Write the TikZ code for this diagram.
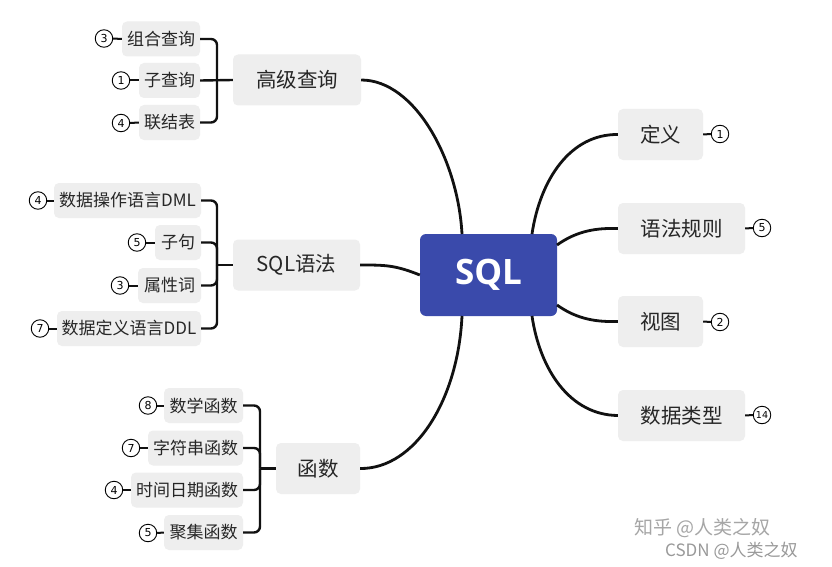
\documentclass[tikz,border=0pt]{standalone}
\usepackage{fontspec}
\setmainfont{Noto Sans CJK SC}
\newfontfamily\sqlfont{Open Sans}
\newfontfamily\numfont{DejaVu Sans}
\definecolor{boxgray}{HTML}{EEEEEE}
\definecolor{sqlblue}{HTML}{3A4AAB}
\definecolor{linek}{HTML}{111111}
\begin{document}
\begin{tikzpicture}[x=1pt,y=-1pt,
  topic/.style={fill=boxgray,rounded corners=5pt,minimum height=51pt,inner sep=0pt,font=\fontsize{20.5}{22}\selectfont,text=black!85},
  sub/.style={fill=boxgray,rounded corners=5pt,minimum height=35pt,inner sep=0pt,font=\fontsize{17}{18}\selectfont,text=black!85},
  badge/.style={circle,draw=black,line width=0.9pt,fill=white,minimum size=17.5pt,inner sep=0pt,font=\numfont\fontsize{11}{12}\selectfont},
  smallbadge/.style={badge,font=\numfont\fontsize{9.5}{10}\selectfont},
  branch/.style={draw=linek,line width=2.8pt},
  brk/.style={draw=linek,line width=2.4pt,rounded corners=6pt},
  tick/.style={draw=linek,line width=2pt}
]
\useasboundingbox (0,0) rectangle (832,567);
\fill[white] (0,0) rectangle (832,567);

% central
\node[fill=sqlblue,rounded corners=6pt,minimum width=137pt,minimum height=82pt,inner sep=0pt,text=white,font=\sqlfont\bfseries\fontsize{35}{37}\selectfont] (sql) at (488.5,275) {SQL};

% right topics
\node[topic,minimum width=85pt] (dy) at (660.5,134.5) {定义};
\node[topic,minimum width=127pt] (yf) at (681.5,228.5) {语法规则};
\node[topic,minimum width=85pt] (st) at (660.5,321.5) {视图};
\node[topic,minimum width=127pt] (sj) at (681.5,415.5) {数据类型};

\node[badge] (bdy) at (720,134) {1};
\node[badge] (byf) at (762,228) {5};
\node[badge] (bst) at (720,322) {2};
\node[smallbadge] (bsj) at (762,415) {14};
\draw[tick] (dy.east) -- (bdy.west);
\draw[tick] (yf.east) -- (byf.west);
\draw[tick] (st.east) -- (bst.west);
\draw[tick] (sj.east) -- (bsj.west);

\draw[branch] (532,234) .. controls (540,180) and (570,134) .. (dy.west);
\draw[branch] (557,245) .. controls (578,230) and (598,228) .. (yf.west);
\draw[branch] (557,305) .. controls (578,320) and (598,322) .. (st.west);
\draw[branch] (532,316) .. controls (540,370) and (570,415) .. (sj.west);

% left topics
\node[topic,minimum width=128pt] (gj) at (297,80) {高级查询};
\node[topic,minimum width=127pt] (yfa) at (296.5,265) {SQL语法};
\node[topic,minimum width=84pt] (hs) at (318,468.5) {函数};

\draw[branch] (462,234) .. controls (458,160) and (415,80) .. (gj.east);
\draw[branch] (sql.west) .. controls (395,265) and (385,265) .. (yfa.east);
\draw[branch] (462,316) .. controls (458,400) and (415,469) .. (hs.east);

% group 1
\node[sub,minimum width=78pt] (g1) at (161,39) {组合查询};
\node[sub,minimum width=61pt] (g2) at (169.5,80.5) {子查询};
\node[sub,minimum width=61pt] (g3) at (169.5,122.5) {联结表};
\coordinate (j1) at (217,80.5);
\draw[brk] (g1.east) -| (j1);
\draw[brk] (g3.east) -| (j1);
\draw[brk] (g2.east) -- (gj.west);
\node[badge] (bg1) at (104,38.5) {3};
\node[badge] (bg2) at (121,80.5) {1};
\node[badge] (bg3) at (121,123) {4};
\draw[tick] (bg1.east) -- (g1.west);
\draw[tick] (bg2.east) -- (g2.west);
\draw[tick] (bg3.east) -- (g3.west);

% group 2
\node[sub,minimum width=147pt] (s1) at (127.5,200.5) {数据操作语言DML};
\node[sub,minimum width=46pt] (s2) at (178,242.5) {子句};
\node[sub,minimum width=63pt] (s3) at (169.5,285.5) {属性词};
\node[sub,minimum width=144pt] (s4) at (129,328.5) {数据定义语言DDL};
\coordinate (j2) at (217,265);
\draw[brk] (s1.east) -| (j2);
\draw[brk] (s2.east) -| (j2);
\draw[brk] (s3.east) -| (j2);
\draw[brk] (s4.east) -| (j2);
\draw[brk] (j2) -- (yfa.west);
\node[badge] (bs1) at (38,200.5) {4};
\node[badge] (bs2) at (137,242.5) {5};
\node[badge] (bs3) at (120,285.5) {3};
\node[badge] (bs4) at (40,328.5) {7};
\draw[tick] (bs1.east) -- (s1.west);
\draw[tick] (bs2.east) -- (s2.west);
\draw[tick] (bs3.east) -- (s3.west);
\draw[tick] (bs4.east) -- (s4.west);

% group 3
\node[sub,minimum width=79pt] (f1) at (203.5,405.5) {数学函数};
\node[sub,minimum width=95pt] (f2) at (195.5,448) {字符串函数};
\node[sub,minimum width=112pt] (f3) at (187,490) {时间日期函数};
\node[sub,minimum width=79pt] (f4) at (203.5,532.5) {聚集函数};
\coordinate (j3) at (260,468.5);
\draw[brk] (f1.east) -| (j3);
\draw[brk] (f2.east) -| (j3);
\draw[brk] (f3.east) -| (j3);
\draw[brk] (f4.east) -| (j3);
\draw[brk] (j3) -- (hs.west);
\node[badge] (bf1) at (148,405.5) {8};
\node[badge] (bf2) at (131,448) {7};
\node[badge] (bf3) at (114,490) {4};
\node[badge] (bf4) at (148,533) {5};
\draw[tick] (bf1.east) -- (f1.west);
\draw[tick] (bf2.east) -- (f2.west);
\draw[tick] (bf3.east) -- (f3.west);
\draw[tick] (bf4.east) -- (f4.west);

% watermark
\node[anchor=west,text=black!35,font=\fontsize{19}{20}\selectfont,inner sep=0pt] (wm1) at (634,528) {知乎 @人类之奴};
\node[anchor=west,text=black!40,font=\fontsize{17}{18}\selectfont,inner sep=0pt] (wm2) at (665,550.5) {CSDN @人类之奴};
\end{tikzpicture}
\end{document}
